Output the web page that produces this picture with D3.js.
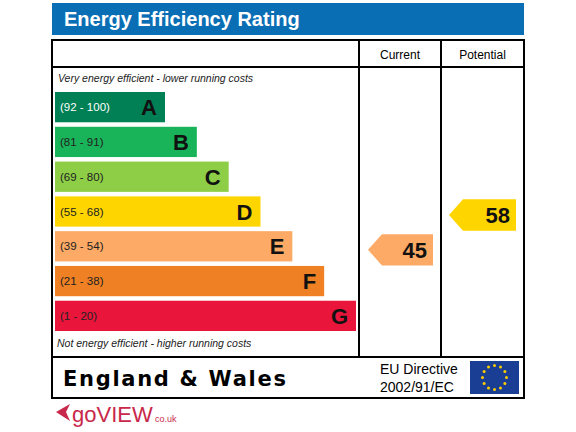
<!DOCTYPE html>
<html><head><meta charset="utf-8">
<script src="https://cdn.jsdelivr.net/npm/d3@7"></script>
<style>body{margin:0;background:#fff}</style>
</head><body>
<svg width="576" height="432"></svg>
<script>
const bands = ["A","B","C","D","E","F","G"];
const ranges = ["(92 - 100)","(81 - 91)","(69 - 80)","(55 - 68)","(39 - 54)","(21 - 38)","(1 - 20)"];
const lows = [92,81,69,55,39,21,1];
const colors = ["#008054","#19b459","#8dce46","#ffd500","#fcaa65","#ef8023","#e9153b"];
const current = 45, potential = 58;

const svg = d3.select("svg");
const font = "Arial, 'Liberation Sans', sans-serif";
const L = 52, R = 524, colC = 359, colP = 441, boxTop = 40, hdr = 67, foot = 357, bot = 398;

svg.append("rect").attr("x",L).attr("y",3).attr("width",R-L).attr("height",32).attr("fill","#0a6eb4");
svg.append("text").attr("x",64).attr("y",26).attr("fill","#fff").attr("font-family",font)
  .attr("font-weight","bold").attr("font-size",20).text("Energy Efficiency Rating");

const g = svg.append("g").attr("fill","none").attr("stroke","#000").attr("stroke-width",2);
g.append("rect").attr("x",L).attr("y",boxTop).attr("width",R-L).attr("height",bot-boxTop);
g.append("line").attr("x1",L).attr("x2",R).attr("y1",hdr).attr("y2",hdr);
g.append("line").attr("x1",L).attr("x2",R).attr("y1",foot).attr("y2",foot);
g.append("line").attr("x1",colC).attr("x2",colC).attr("y1",boxTop).attr("y2",foot);
g.append("line").attr("x1",colP).attr("x2",colP).attr("y1",boxTop).attr("y2",foot);

svg.append("text").attr("x",(colC+colP)/2).attr("y",59).attr("text-anchor","middle")
  .attr("font-family",font).attr("font-size",12).text("Current");
svg.append("text").attr("x",(colP+R)/2).attr("y",59).attr("text-anchor","middle")
  .attr("font-family",font).attr("font-size",12).text("Potential");

svg.append("text").attr("x",58).attr("y",82).attr("font-family",font).attr("font-style","italic")
  .attr("font-size",10.5).attr("fill","#222").text("Very energy efficient - lower running costs");
svg.append("text").attr("x",57).attr("y",347).attr("font-family",font).attr("font-style","italic")
  .attr("font-size",10.5).attr("fill","#222").text("Not energy efficient - higher running costs");

const y = d3.scaleBand().domain(bands).range([92,331]).paddingInner(0.13);
const w = d3.scaleLinear().domain([0,6]).range([165,356]);

const rows = svg.selectAll("g.row").data(bands).enter().append("g");
rows.append("rect").attr("x",55).attr("y",d=>y(d)).attr("height",y.bandwidth())
  .attr("width",(d,i)=>w(i)-55).attr("fill",(d,i)=>colors[i]);
rows.append("text").attr("x",60).attr("y",d=>y(d)+y.bandwidth()/2+4).attr("font-family",font)
  .attr("font-size",11.5).attr("fill",(d,i)=>i==0?"#fff":"#222").text((d,i)=>ranges[i]);
rows.append("text").attr("x",(d,i)=>w(i)-8).attr("y",d=>y(d)+y.bandwidth()/2+8).attr("text-anchor","end")
  .attr("font-family",font).attr("font-weight","bold").attr("font-size",22).attr("fill","#111").text(d=>d);

function bandOf(v){ return lows.findIndex(l=>v>=l); }
function arrow(v, x0, x1){
  const i = bandOf(v), yy = y(bands[i]) + 3, h = y.bandwidth()+1, tip = 14;
  svg.append("path").attr("fill",colors[i])
    .attr("d",`M${x0},${yy+h/2}L${x0+tip},${yy}H${x1}V${yy+h}H${x0+tip}Z`);
  svg.append("text").attr("x",x1-6).attr("y",yy+h/2+8).attr("text-anchor","end").attr("font-family",font)
    .attr("font-weight","bold").attr("font-size",22).attr("fill","#111").text(v);
}
arrow(current, 368, 433);
arrow(potential, 449, 516);

// footer
svg.append("text").attr("x",63).attr("y",386).attr("font-family","'DejaVu Sans', Verdana, sans-serif")
  .attr("font-weight","bold").attr("font-size",21).attr("letter-spacing",1.7).text("England & Wales");
svg.append("text").attr("x",380).attr("y",374).attr("font-family",font).attr("font-size",14).text("EU Directive");
svg.append("text").attr("x",380).attr("y",392).attr("font-family",font).attr("font-size",14).text("2002/91/EC");
svg.append("rect").attr("x",470).attr("y",361).attr("width",49).attr("height",33).attr("fill","#1a3e93");
const stars = d3.range(12).map(k=>[494.5+12*Math.sin(k*Math.PI/6), 377.5-12*Math.cos(k*Math.PI/6)]);
svg.selectAll("circle.s").data(stars).enter().append("circle").attr("cx",d=>d[0]).attr("cy",d=>d[1])
  .attr("r",1.5).attr("fill","#fc0");
svg.append("path").attr("d","M56,412L70,404L66,412L70,421Z").attr("fill","#c8284a");
svg.append("text").attr("x",72).attr("y",422).attr("font-family",font).attr("font-size",22)
  .attr("fill","#c8284a").text("goVIEW");
svg.append("text").attr("x",155).attr("y",422).attr("font-family",font).attr("font-size",9)
  .attr("fill","#c8284a").text("co.uk");
</script>
</body></html>
